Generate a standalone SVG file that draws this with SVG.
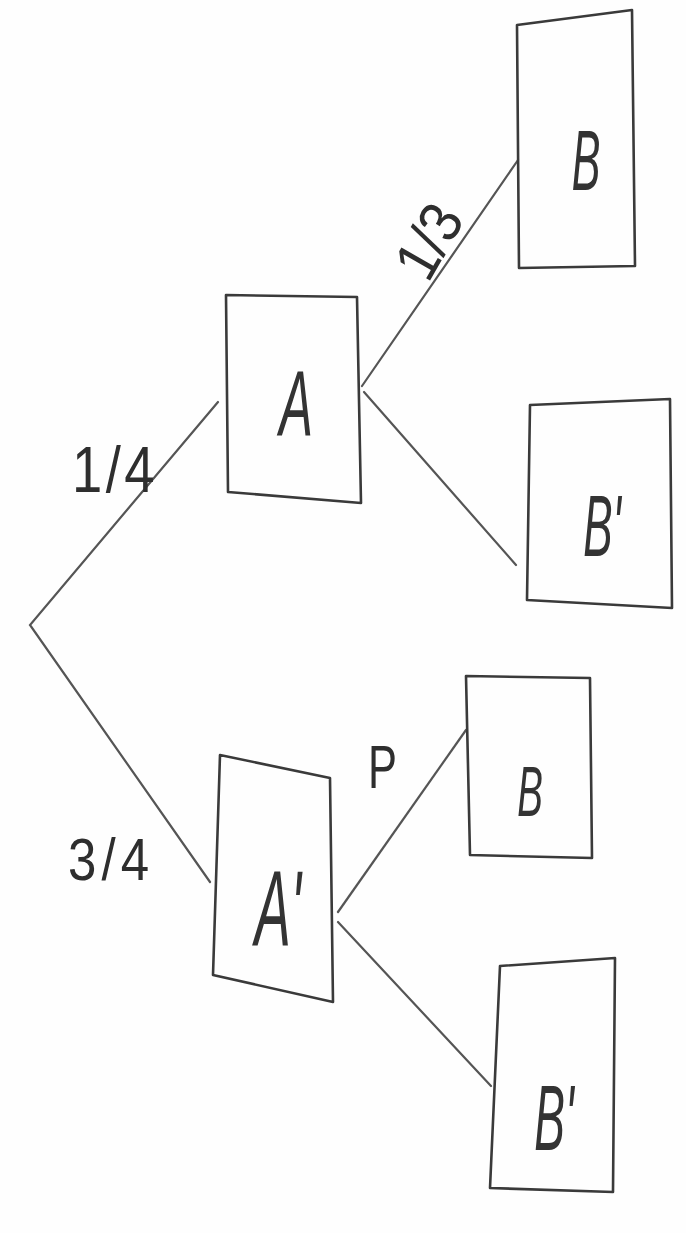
<svg xmlns="http://www.w3.org/2000/svg" width="686" height="1233" viewBox="0 0 686 1233">
<style>
.box{fill:none;stroke:#3a3a3a;stroke-width:2.6;stroke-linejoin:round}
.edge{fill:none;stroke:#555;stroke-width:2.2;stroke-linecap:round}
.lbl{font-family:"Liberation Sans",sans-serif;fill:#2e2e2e}
.big{font-family:"Liberation Sans",sans-serif;fill:#333;font-style:italic;text-anchor:middle}
</style>
<rect width="686" height="1233" fill="#fefefe"/>
<g id="connectors">
<polyline class="edge" points="218,402 30,625 210,882"/>
<line class="edge" x1="362" y1="386" x2="518" y2="160"/>
<line class="edge" x1="364" y1="392" x2="516" y2="565"/>
<line class="edge" x1="338" y1="912" x2="466" y2="730"/>
<line class="edge" x1="338" y1="922" x2="491" y2="1086"/>
</g>
<g id="labels">
<text class="lbl" font-size="64" transform="translate(72,492) scale(0.85,1)" letter-spacing="4">1/4</text>
<text class="lbl" font-size="60" transform="translate(428,284) rotate(-60) scale(0.9,1)">1/3</text>
<text class="lbl" font-size="60" transform="translate(68,880) scale(0.85,1)" letter-spacing="6">3/4</text>
<text class="lbl" font-size="62" transform="translate(368,788) scale(0.7,1)">P</text>
</g>
<g id="node-A">
<polygon class="box" points="226,295 357,297 361,503 228,492"/>
<text class="big" font-size="92" transform="translate(296,436) scale(0.55,1)">A</text>
</g>
<g id="node-B1">
<polygon class="box" points="517,25 632,10 635,266 519,268"/>
<text class="big" font-size="86" transform="translate(586,190) scale(0.5,1)">B</text>
</g>
<g id="node-Bp1">
<polygon class="box" points="530,405 670,399 672,608 527,600"/>
<text class="big" font-size="88" transform="translate(602,556) scale(0.5,1)">B'</text>
</g>
<g id="node-Ap">
<polygon class="box" points="220,755 330,778 333,1002 213,975"/>
<text class="big" font-size="108" transform="translate(278,946) scale(0.5,1)">A'</text>
</g>
<g id="node-B2">
<polygon class="box" points="466,676 590,678 592,858 470,855"/>
<text class="big" font-size="70" transform="translate(530,816) scale(0.55,1)">B</text>
</g>
<g id="node-Bp2">
<polygon class="box" points="500,966 615,958 613,1192 490,1188"/>
<text class="big" font-size="92" transform="translate(554,1150) scale(0.5,1)">B'</text>
</g>
</svg>
